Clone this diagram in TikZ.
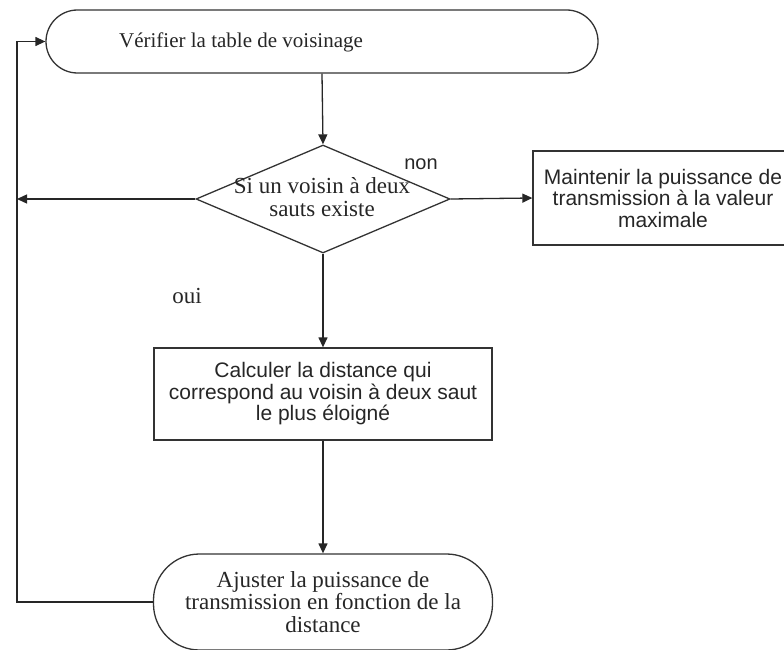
\documentclass[tikz,border=0pt]{standalone}
\usepackage{fontspec}
\setmainfont{Liberation Serif}
\newfontfamily\arialfont{Liberation Sans}
\usetikzlibrary{arrows.meta,positioning,shapes.geometric}

\begin{document}
\begin{tikzpicture}[x=1pt,y=-1pt,line width=1.3pt,
    every node/.style={inner sep=0pt,text=black!85},
    terminal/.style={draw=black!80,rectangle,rounded corners=#1},
    process/.style={draw=black!80,rectangle,align=center,
      font=\arialfont\fontsize{21}{21.5}\selectfont},
    decision/.style={draw=black!80,diamond},
    flow/.style={draw=black!85,-{Triangle[length=10pt,width=9pt]}}]
  \useasboundingbox (0,0) rectangle (784,650);
  % Start
  \node[terminal=31.5pt,minimum width=552pt,minimum height=63pt] (verif) at (322,41.5) {};
  \node[font=\fontsize{21}{22}\selectfont] (veriftxt) at (241,42) {Vérifier la table de voisinage};
  % Test
  \node[decision,minimum width=254pt,minimum height=108pt] (test) at (323,199) {};
  \node[align=center,font=\fontsize{23}{23}\selectfont] (testtxt) at (322,197) {Si un voisin à deux\\sauts existe};
  \node[font=\arialfont\fontsize{20}{22}\selectfont] (non) at (421,164) {non};
  \node[font=\fontsize{23}{23}\selectfont] (oui) at (187,296) {oui};
  % Branches
  \node[process,minimum width=260pt,minimum height=94pt] (maint) at (663,198)
    {Maintenir la puissance de\\transmission à la valeur\\maximale};
  \node[process,minimum width=338pt,minimum height=92pt] (calc) at (323,394)
    {Calculer la distance qui\\correspond au voisin à deux saut\\le plus éloigné};
  \node[terminal=46pt,minimum width=339pt,minimum height=96pt,align=center,
    font=\fontsize{23}{22.5}\selectfont] (ajust) at (323,602)
    {Ajuster la puissance de\\transmission en fonction de la\\distance};
  \coordinate (loop) at (17,199);
  % Connectors
  \draw[flow] (verif.south) -- (test.north);
  \draw[flow] (test.east) -- (maint.west);
  \draw[flow] (test.west) -- (loop);
  \draw[flow] (test.south) -- (calc.north);
  \draw[flow] (calc.south) -- (ajust.north);
  \draw[flow] (ajust.west) -| (loop) |- (verif.west);
\end{tikzpicture}
\end{document}
